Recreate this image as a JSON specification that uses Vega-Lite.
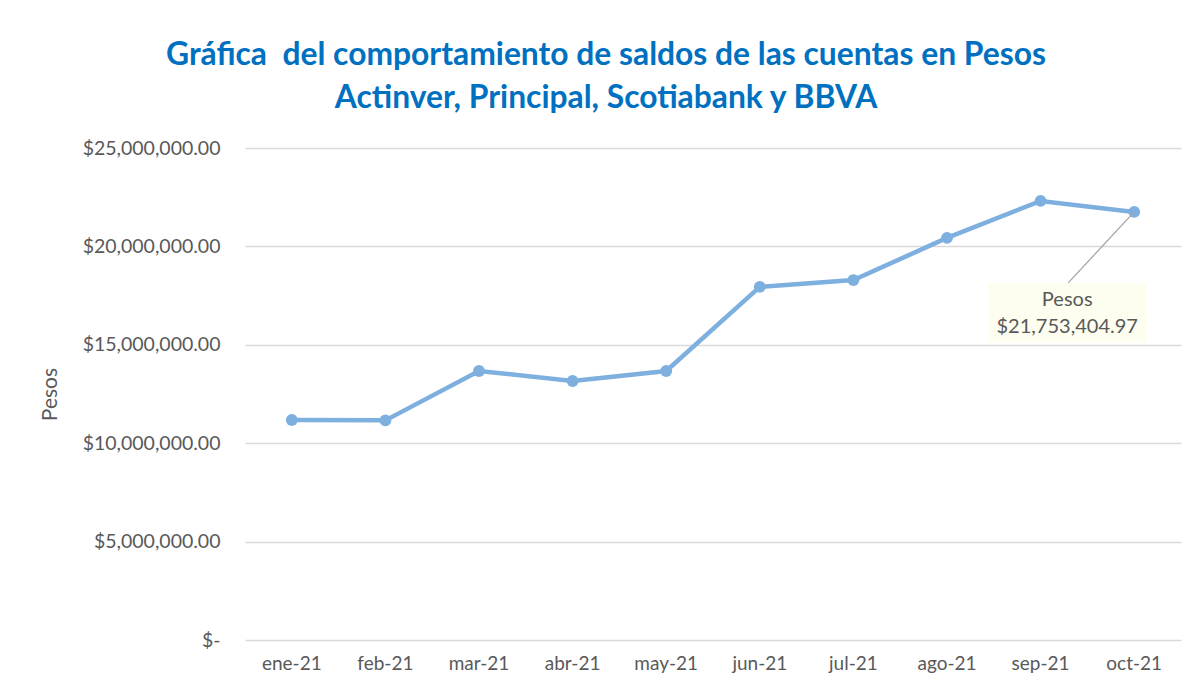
{
  "$schema": "https://vega.github.io/schema/vega-lite/v6.json",
  "width": 936,
  "height": 492,
  "autosize": {"type": "none"},
  "padding": {"left": 245, "top": 148, "right": 16, "bottom": 50},
  "background": "white",
  "config": {
    "font": "Lato",
    "view": {"stroke": null}
  },
  "title": {
    "text": ["Gráfica\u00a0 del comportamiento de saldos de las cuentas en Pesos", "Actinver, Principal, Scotiabank y BBVA"],
    "font": "Lato",
    "fontSize": 31.8,
    "fontWeight": "bold",
    "color": "#0070C0",
    "anchor": "middle",
    "dx": -107,
    "offset": 23,
    "lineHeight": 43
  },
  "data": {
    "values": [
      {"mes": "ene-21", "saldo": 11180000},
      {"mes": "feb-21", "saldo": 11160000},
      {"mes": "mar-21", "saldo": 13670000},
      {"mes": "abr-21", "saldo": 13160000},
      {"mes": "may-21", "saldo": 13670000},
      {"mes": "jun-21", "saldo": 17940000},
      {"mes": "jul-21", "saldo": 18290000},
      {"mes": "ago-21", "saldo": 20430000},
      {"mes": "sep-21", "saldo": 22310000},
      {"mes": "oct-21", "saldo": 21753404.97}
    ]
  },
  "encoding": {
    "x": {
      "field": "mes",
      "type": "ordinal",
      "sort": null,
      "scale": {"type": "band", "paddingInner": 0, "paddingOuter": 0},
      "axis": {
        "title": null,
        "labelAngle": 0,
        "labelFontSize": 19,
        "labelColor": "#595959",
        "labelPadding": 14,
        "ticks": false,
        "domain": false,
        "grid": false
      }
    },
    "y": {
      "field": "saldo",
      "type": "quantitative",
      "scale": {"domain": [0, 25000000], "nice": false},
      "axis": {
        "title": "Pesos",
        "titleFont": "Lato",
        "titleFontSize": 21,
        "titleFontWeight": "normal",
        "titleColor": "#595959",
        "titlePadding": 22,
        "values": [0, 5000000, 10000000, 15000000, 20000000, 25000000],
        "labelExpr": "datum.value == 0 ? '$-        ' : format(datum.value, '$,.2f')",
        "labelFontSize": 19.5,
        "labelColor": "#595959",
        "labelPadding": 25,
        "ticks": false,
        "domain": false,
        "grid": true,
        "gridColor": "#D9D9D9",
        "gridWidth": 1.3
      }
    }
  },
  "layer": [
    {
      "mark": {"type": "line", "color": "#7DAFDF", "strokeWidth": 4.5}
    },
    {
      "mark": {"type": "point", "filled": true, "color": "#7DAFDF", "opacity": 1, "size": 140}
    },
    {
      "transform": [{"filter": "datum.mes == 'oct-21'"}],
      "mark": {
        "type": "point",
        "shape": "M0 0 L-0.66 0.71",
        "size": 40000,
        "filled": false,
        "stroke": "#A6A6A6",
        "strokeWidth": 1.3,
        "opacity": 1
      }
    },
    {
      "transform": [{"filter": "datum.mes == 'oct-21'"}],
      "mark": {
        "type": "point",
        "shape": "M-1.46 0.71 L0.13 0.71 L0.13 1.31 L-1.46 1.31 Z",
        "size": 40000,
        "filled": true,
        "fill": "#FEFEF0",
        "strokeWidth": 0,
        "opacity": 1
      }
    },
    {
      "transform": [{"filter": "datum.mes == 'oct-21'"}],
      "mark": {"type": "text", "dx": -67, "dy": 88, "fontSize": 20, "color": "#595959", "align": "center", "baseline": "middle"},
      "encoding": {"text": {"value": "Pesos"}}
    },
    {
      "transform": [{"filter": "datum.mes == 'oct-21'"}],
      "mark": {"type": "text", "dx": -67, "dy": 115, "fontSize": 20, "color": "#595959", "align": "center", "baseline": "middle"},
      "encoding": {"text": {"field": "saldo", "type": "quantitative", "format": "$,.2f"}}
    }
  ]
}
